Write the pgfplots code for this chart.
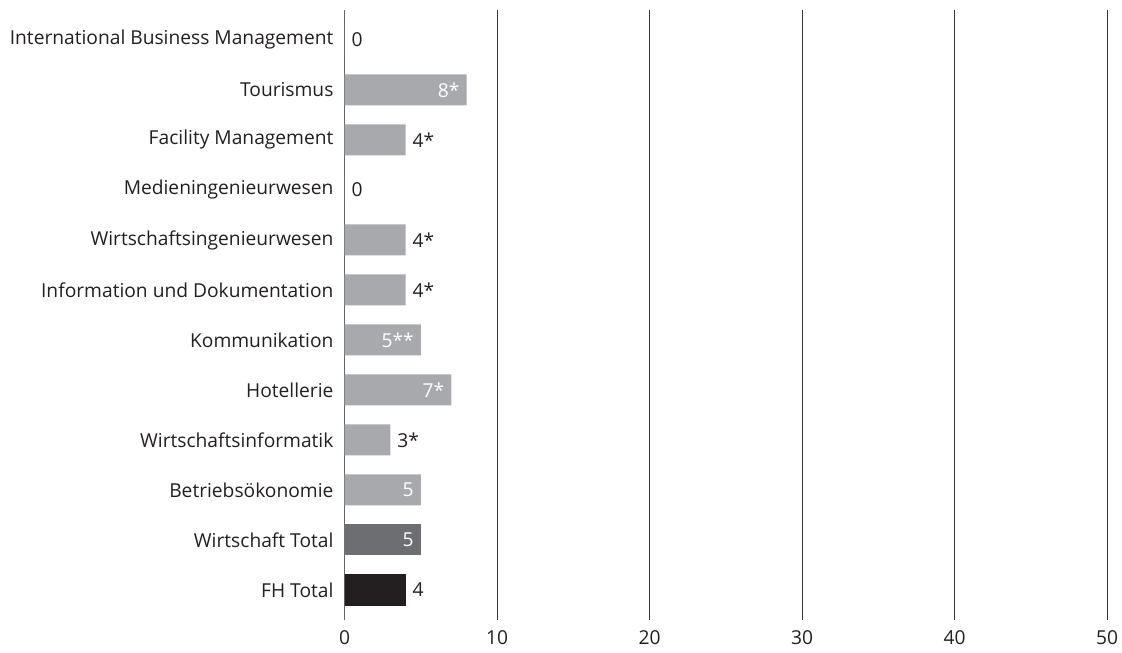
\documentclass[border=0pt]{standalone}
\usepackage{fontspec}
\setmainfont{Open Sans}
\usepackage{pgfplots}
\pgfplotsset{compat=1.18}

\definecolor{barlight}{HTML}{A7A9AC}
\definecolor{bardark}{HTML}{6D6E71}
\definecolor{barblack}{HTML}{231F20}
\definecolor{txt}{HTML}{231F20}

\begin{document}
\begin{tikzpicture}
\useasboundingbox (-172.25pt,-16pt) rectangle (388.75pt,310pt);
\begin{axis}[
    at={(0,0)}, anchor=south west,
    scale only axis, width=381.25pt, height=305pt,
    xbar, bar width=15.5pt, bar shift=0pt,
    xmin=0, xmax=50, ymin=-0.6, ymax=11.6,
    xtick={0,10,...,50},
    ytick={0,...,11},
    yticklabels={FH Total, Wirtschaft Total, Betriebsökonomie, Wirtschaftsinformatik,
        Hotellerie, Kommunikation, Information und Dokumentation,
        Wirtschaftsingenieurwesen, Medieningenieurwesen, Facility Management,
        Tourismus, International Business Management},
    major tick length=0pt,
    axis line style={draw=none},
    xmajorgrids, grid style={barblack!90, line width=0.5pt},
    tick label style={font=\fontsize{9.6}{11}\selectfont, text=txt},
    xticklabel style={yshift=-2pt},
    yticklabel style={xshift=-2pt},
    /pgf/number format/assume math mode=true,
    point meta=explicit symbolic,
    nodes near coords,
    nodes near coords style={font=\fontsize{9.6}{11}\selectfont},
]
% light bars, label outside
\addplot[draw=none, fill=barlight, nodes near coords style={text=txt, anchor=west}]
    coordinates {(0,11) [0] (4,9) [4*] (0,8) [0] (4,7) [4*] (4,6) [4*] (3,3) [3*]};
% light bars, label inside
\addplot[draw=none, fill=barlight, nodes near coords style={text=white, anchor=east}]
    coordinates {(8,10) [8*] (5,5) [5**] (7,4) [7*] (5,2) [5]};
% Wirtschaft Total
\addplot[draw=none, fill=bardark, nodes near coords style={text=white, anchor=east}]
    coordinates {(5,1) [5]};
% FH Total
\addplot[draw=none, fill=barblack, nodes near coords style={text=txt, anchor=west}]
    coordinates {(4,0) [4]};
\draw[gray, line width=0.5pt] (axis cs:0,-0.6) -- (axis cs:0,11.6);
\end{axis}
\end{tikzpicture}
\end{document}
